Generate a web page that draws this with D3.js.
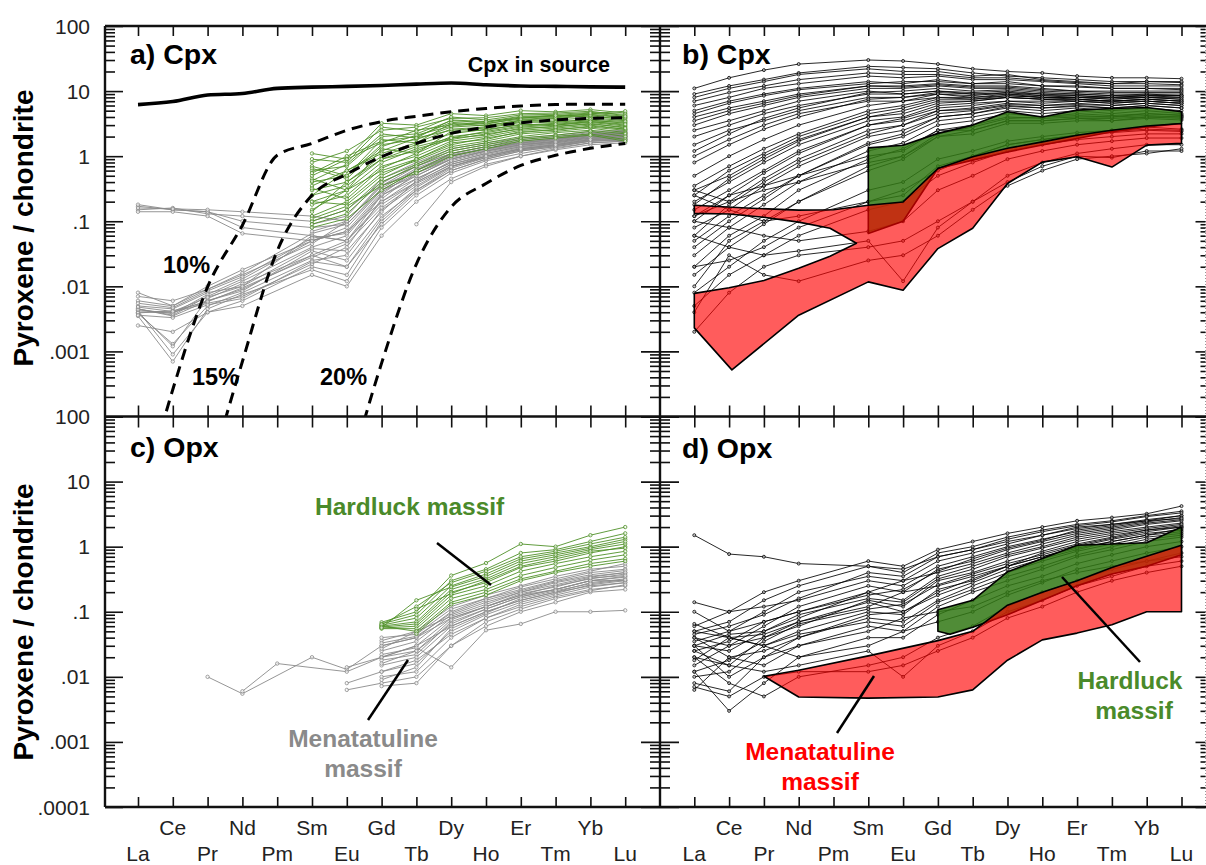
<!DOCTYPE html>
<html><head><meta charset="utf-8">
<script src="https://cdn.jsdelivr.net/npm/d3@7"></script>
<style>
body{margin:0;background:#fff;}
svg{display:block;font-family:"Liberation Sans",Arial,sans-serif;}
</style></head>
<body>
<svg id="c" width="1206" height="865"></svg>
<script>
// ---------------- DATA ----------------
const REE = ["La","Ce","Pr","Nd","Pm","Sm","Eu","Gd","Tb","Dy","Ho","Er","Tm","Yb","Lu"];
const yTickLabelsTop = ["100","10","1",".1",".01",".001"];
const yTickLabelsBottom = ["100","10","1",".1",".01",".001",".0001"];
const yDecades = [100,10,1,0.1,0.01,0.001,0.0001];

// a) Cpx in source (La..Lu)
const cpxSource = [6.2,6.9,8.7,9.2,11,11.5,11.8,12.2,12.8,13.3,12.5,12,11.8,11.6,11.5];
// melting model curves (La..Lu)
const melt10 = [0.000003,0.00026,0.0098,0.087,1.03,1.57,2.5,3.4,4.1,4.8,5.4,5.9,6.2,6.3,6.3];
const melt15 = [null,0.0000001,0.00001,0.0007,0.035,0.25,0.53,0.98,1.57,2.24,2.8,3.25,3.6,3.8,3.9];
const melt20 = [null,null,null,null,null,0.0000001,0.00001,0.00066,0.022,0.166,0.38,0.72,1.03,1.32,1.57];

// a) green (Hardluck) clinopyroxene, Sm..Lu
const cpxGreenA = [
 [1.1,0.9,3.2,3.0,4.5,4.2,5.0,4.8,5.2,4.6],
 [0.8,1.2,2.5,2.8,3.8,3.9,4.5,4.6,4.9,4.2],
 [0.6,0.7,2.0,2.2,3.5,3.3,4.0,4.1,4.4,4.0],
 [0.5,0.9,1.6,2.5,3.0,3.4,3.8,4.3,4.0,3.8],
 [0.4,0.5,1.5,1.8,2.8,3.0,3.5,3.6,3.9,3.5],
 [0.35,0.6,1.2,1.9,2.5,2.7,3.3,3.4,3.6,3.2],
 [0.3,0.4,1.0,1.5,2.2,2.6,3.0,3.2,3.5,3.3],
 [0.25,0.35,0.9,1.2,2.0,2.3,2.8,3.0,3.3,2.9],
 [0.2,0.3,0.8,1.3,1.8,2.2,2.6,2.9,3.1,2.8],
 [0.18,0.25,0.7,1.0,1.7,2.0,2.5,2.7,3.0,2.6],
 [0.15,0.3,0.6,0.9,1.5,1.9,2.3,2.6,2.8,2.5],
 [0.12,0.2,0.55,0.85,1.4,1.7,2.2,2.4,2.7,2.3],
 [0.1,0.15,0.45,0.75,1.3,1.6,2.0,2.3,2.5,2.2],
 [0.09,0.13,0.4,0.7,1.2,1.5,1.9,2.1,2.4,2.0],
 [0.08,0.11,0.3,0.6,1.1,1.4,1.8,2.0,2.2,1.8],
 [0.45,0.3,1.3,1.1,2.4,2.5,3.1,3.0,3.4,3.0],
 [0.7,0.5,1.8,1.6,3.2,2.9,3.6,3.8,4.2,3.6],
 [0.25,0.6,1.1,1.6,2.6,2.8,3.4,3.3,3.7,3.4],
 [0.9,0.8,2.8,2.4,4.0,3.6,4.3,4.4,4.7,4.4],
 [0.2,0.18,0.5,0.9,1.6,1.8,2.4,2.5,2.9,2.6],
 [0.14,0.4,0.9,1.4,1.9,2.1,2.7,2.8,3.2,2.7],
 [0.55,1.0,1.7,2.0,3.3,3.1,3.9,4.0,4.5,4.9],
 [0.32,0.22,0.65,1.1,1.9,2.4,2.9,3.1,3.4,3.1],
 [0.65,0.45,1.4,2.1,2.9,3.2,3.7,3.9,4.3,3.9],
 [0.11,0.17,0.35,0.55,1.0,1.3,1.7,1.9,2.1,1.7],
 [0.42,0.75,2.2,1.9,3.6,3.4,4.1,4.2,4.6,4.1]
];
// a) grey (Menatatuline) clinopyroxene, La..Lu
const cpxGreyA = [
 [0.17,0.15,0.14,0.1,null,0.08,0.09,0.3,0.5,0.9,1.2,1.5,1.7,2.0,2.1],
 [0.15,0.16,0.13,0.12,null,0.1,0.15,0.4,0.7,1.1,1.4,1.7,1.9,2.2,2.3],
 [0.18,0.15,0.14,0.08,null,0.06,0.05,0.25,0.45,0.8,1.1,1.4,1.6,1.9,2.0],
 [0.14,0.14,0.12,0.065,null,0.05,0.07,0.2,0.4,0.75,1.0,1.3,1.5,1.8,1.9],
 [0.16,0.155,0.15,0.14,null,0.12,0.1,0.35,0.6,1.0,1.3,1.6,1.8,2.1,2.2],
 [0.004,0.004,0.006,0.009,null,0.03,0.05,0.2,0.45,0.8,1.1,1.4,1.6,1.9,2.0],
 [0.0045,0.0036,0.007,0.012,null,0.04,0.06,0.25,0.5,0.9,1.2,1.5,1.7,2.0,2.1],
 [0.0038,0.0013,0.005,0.008,null,0.025,0.03,0.15,0.35,0.7,1.0,1.3,1.5,1.8,1.9],
 [0.008,0.005,0.01,0.018,null,0.05,0.08,0.3,0.6,1.0,1.3,1.6,1.8,2.1,2.3],
 [0.0042,0.0009,0.004,0.006,null,0.02,0.015,0.1,0.3,0.6,0.9,1.2,1.4,1.7,1.8],
 [0.0035,0.0007,0.0045,0.0075,null,0.018,0.012,0.08,0.25,0.55,0.85,1.1,1.35,1.6,1.7],
 [0.0025,0.002,0.004,0.005,null,0.015,0.01,0.06,0.2,0.45,0.75,1.0,1.25,1.5,1.6],
 [0.005,0.0045,0.008,0.01,null,0.06,0.05,0.18,0.4,0.75,1.05,1.35,1.55,1.85,1.95],
 [0.006,0.005,0.009,0.015,null,0.045,0.1,0.35,0.7,1.1,1.4,1.7,1.9,2.2,2.4],
 [0.0045,0.0035,0.006,0.0085,null,0.035,0.025,0.12,0.3,0.65,0.95,1.25,1.45,1.75,1.85],
 [0.0042,0.004,0.0055,0.007,null,0.022,0.04,0.22,0.55,0.95,1.25,1.55,1.75,2.05,2.15],
 [0.004,0.0012,0.0065,0.011,null,0.03,0.02,0.09,0.28,0.6,0.9,1.2,1.4,1.7,1.75],
 [0.0044,0.0038,0.0075,0.013,null,0.05,0.07,0.28,0.55,0.9,1.2,1.5,1.65,1.95,2.05],
 [0.0039,0.0042,0.0058,0.0095,null,0.028,0.045,0.16,0.38,0.7,0.95,1.25,1.45,1.7,1.8],
 [0.007,0.006,0.009,0.016,null,0.065,0.09,0.32,0.65,1.05,1.3,1.6,1.85,2.1,2.2],
 [null,null,null,null,null,null,null,null,0.09,0.4,0.7,1.0,1.3,1.6,1.7],
 [null,null,null,null,null,0.09,0.12,0.45,0.8,1.3,1.6,1.9,2.1,2.4,2.5],
 [null,null,null,null,null,0.07,0.1,0.38,0.75,1.2,1.5,1.8,2.0,2.3,2.4],
 [0.0048,0.0041,0.0068,0.01,null,0.038,0.035,0.14,0.42,0.85,1.15,1.45,1.65,1.95,2.05],
 [0.0036,0.0033,0.0052,0.0065,null,0.024,0.02,0.11,0.33,0.68,1.0,1.3,1.5,1.8,1.9],
 [0.0055,0.0047,0.0085,0.014,null,0.055,0.065,0.26,0.62,1.02,1.32,1.62,1.82,2.12,2.25]
];

// b) Cpx samples, La..Lu
const cpxB = [
 [11,16,21,26,null,30,29,26,22,20,19,17,16,16,15.5],
 [9,12,15,19,null,24,23,22,19,17,16,15,14,14,13.5],
 [8,11,14,18,null,22,20,20,17,18,15,14,13,14,14],
 [7,9.5,12,15,null,19,18,18,16,16,14.5,13.5,13,13,12.5],
 [6,8,11,13,null,17,16,17,15,15,14,13,12,12,12],
 [5,7,9,11,null,14,13,15,13,14,12,12,11,11,11],
 [4.5,6.5,8.5,10.5,null,13,14,14,13,13,12,11.5,11,11,10.5],
 [4,5.5,7,9,null,12,12,13,12,12,11,10,10,10,10],
 [3.5,5,6.5,8.5,null,12,11.5,12.5,11.5,11.5,10.5,10,9.5,9.5,9.5],
 [3,4.5,6,8,null,11,11,12,11,11,10,9.5,9,9,9],
 [2.5,3.5,5,7,null,10,9,10,9.5,10,9,9,8.5,8.5,8.5],
 [2,3,4.5,6,null,9,9,10,9,9,8.5,8,8,8,7.5],
 [1.5,2.5,3.5,5,null,8,8,9,8,8.5,8,7.5,7,7.5,7],
 [1.2,2.2,3.8,5.5,null,9.5,10,11,10,10.5,9.5,9,8.5,9,8.5],
 [1,1.8,3,4.5,null,7,7,8,7.5,8,7.5,7,7,7,6.5],
 [0.8,1.5,2.6,4,null,7.5,8,9.5,9,9.5,9,8.5,8,8.5,8],
 [0.5,1,1.8,3,null,6,7,9,8.5,9.5,8.5,8.5,8,8.5,8.5],
 [0.35,0.7,1.3,2.2,null,5,6,8,8,9,8,8,7.5,8,8],
 [0.3,0.5,1,1.8,null,4,5,7,7,8,7.5,7.5,7,7.5,7],
 [0.25,0.6,1.1,2,null,4.5,5.5,7.5,7.5,8.5,8,8,7.5,8,7.5],
 [0.2,0.4,0.8,1.5,null,3.5,4,6,6.5,7,7,7,6.5,7,6.5],
 [0.18,0.45,0.9,1.7,null,4,4.5,6.5,7,8,7.5,7.5,7,7.5,7],
 [0.15,0.3,0.6,1.2,null,3,3.5,5,5.5,6.5,6,6.5,6,6.5,6],
 [0.12,0.2,0.45,0.9,null,2.5,3,4.5,5,6,5.5,6,5.5,6,5.5],
 [0.1,0.25,0.55,1.1,null,3,3.8,5.5,6,7,6.5,7,6.5,7,6.5],
 [0.08,0.15,0.35,0.7,null,2,2.5,4,4.5,5.5,5,5.5,5,5.5,5],
 [0.06,0.18,0.4,0.8,null,2.2,3,5,5.2,6.2,6,6.2,6,6.5,6],
 [0.05,0.12,0.25,0.5,null,1.5,2,3.5,4,5,4.5,5,4.5,5,4.5],
 [0.04,0.1,0.22,0.5,null,1.6,2.2,4,4.5,5.8,5.5,5.8,5.5,6,5.5],
 [0.03,0.08,0.18,0.4,null,1.2,1.6,3,3.5,4.5,4,4.5,4.2,4.5,4.2],
 [0.02,0.06,0.12,0.3,null,0.9,1.3,2.5,3,4,3.8,4,4,4.2,4],
 [0.01,0.05,0.1,0.2,null,0.7,1,2,2.5,3.5,3.5,3.8,3.8,4,3.8],
 [0.015,0.04,0.09,0.2,null,0.6,0.9,2,2.2,3.2,3.2,3.5,3.5,3.8,3.6],
 [0.3,0.2,0.3,0.4,null,0.8,1,2.2,2.8,3.8,4,4.2,4,4.5,4.3],
 [0.008,0.02,0.05,0.1,null,0.3,0.4,0.9,1.2,1.7,2,2.3,2.5,2.8,2.6],
 [0.02,0.025,0.04,0.08,null,0.2,0.25,0.7,1,1.5,1.8,2.1,2.3,2.5,2.4],
 [0.005,0.015,0.03,0.06,null,0.15,0.2,0.5,0.8,1.2,1.5,1.8,2,2.2,2.2],
 [0.1,0.08,0.06,0.05,null,0.07,0.1,0.3,0.5,0.9,1.2,1.5,1.7,1.9,1.9],
 [0.06,0.04,0.03,0.035,null,0.05,0.012,0.08,0.2,0.5,0.8,1.1,1.3,1.5,1.5],
 [0.002,0.008,0.02,0.03,null,0.04,0.05,0.1,0.2,0.4,0.7,1.0,0.95,1.2,1.2],
 [0.004,0.03,0.015,0.012,null,0.025,0.03,0.06,0.15,0.35,0.6,0.9,1.0,1.1,1.3],
 [0.12,0.25,0.35,0.5,null,1,1.2,2.5,2.5,3.5,3.5,3.8,3.5,4,4],
 [0.25,0.15,0.1,0.12,null,0.2,0.3,0.6,1,1.5,1.8,2.1,2.4,2.6,2.5]
];
// b) field outlines: [element index, value]
const redFieldB = [[0,0.176],[1.5,0.16],[3,0.148],[4,0.15],[5,0.176],[6,0.198],[7,0.646],[8,0.98],[9,1.32],[10,1.66],[11,2.1],[12,2.5],[13,2.9],[14,3.18],[14,1.57],[13,1.48],[12,0.68],[11,0.98],[10,0.81],[9,0.38],[8,0.078],[7,0.038],[6,0.0087],[5,0.0117],[3,0.0036],[1.08,0.00052],[0,0.0023],[0,0.0078],[1,0.0095],[2,0.0123],[3,0.019],[3.9,0.029],[4.66,0.046],[3.9,0.078],[3,0.097],[2,0.115],[1,0.129],[0,0.132]];
const greenFieldB = [[5,1.34],[6,1.47],[7,2.24],[8,3.0],[9,4.8],[10,4.0],[11,5.1],[12,5.4],[13,5.6],[14,4.8],[14,3.18],[13,2.8],[12,2.37],[11,1.87],[10,1.48],[9,1.16],[8,0.87],[7,0.645],[6,0.1],[5,0.065]];

// c) Opx, La..Lu
const opxGreyC = [
 [null,null,0.01,0.0055,null,0.02,0.013,0.03,0.04,0.08,0.12,0.18,0.22,0.3,0.3],
 [null,null,null,0.006,0.016,null,0.012,0.02,0.03,0.06,0.1,0.15,0.2,0.25,0.28],
 [null,null,null,null,null,null,0.008,0.012,0.018,0.045,0.08,0.12,0.17,0.22,0.25],
 [null,null,null,null,null,null,0.0063,0.008,0.01,0.03,0.06,0.1,0.14,0.2,0.22],
 [null,null,null,null,null,null,null,0.036,0.05,0.12,0.18,0.25,0.35,0.45,0.5],
 [null,null,null,null,null,null,null,0.03,0.04,0.1,0.16,0.22,0.3,0.4,0.45],
 [null,null,null,null,null,null,null,0.025,0.035,0.09,0.14,0.2,0.28,0.35,0.4],
 [null,null,null,null,null,null,null,0.02,0.03,0.08,0.12,0.18,0.25,0.32,0.38],
 [null,null,null,null,null,null,null,0.018,0.022,0.07,0.11,0.17,0.22,0.3,0.35],
 [null,null,null,null,null,null,null,0.015,0.02,0.06,0.1,0.15,0.2,0.28,0.32],
 [null,null,null,null,null,null,null,0.012,0.016,0.05,0.09,0.14,0.19,0.26,0.3],
 [null,null,null,null,null,null,null,0.01,0.012,0.04,0.08,0.13,0.18,0.24,0.28],
 [null,null,null,null,null,null,null,0.0072,0.008,0.03,0.07,0.11,0.16,0.21,0.26],
 [null,null,null,null,null,null,null,0.04,0.045,0.11,0.16,0.24,0.32,0.42,0.55],
 [null,null,null,null,null,null,null,0.022,0.028,0.014,0.052,0.065,0.1,0.1,0.105],
 [null,null,null,null,null,null,0.014,0.02,0.025,0.065,0.11,0.17,0.22,0.3,0.34],
 [null,null,null,null,null,null,null,0.033,0.042,0.095,0.15,0.21,0.29,0.37,0.43],
 [null,null,null,null,null,null,null,0.027,0.05,0.085,0.13,0.2,0.26,0.34,0.4],
 [null,null,null,null,null,null,null,0.016,0.025,0.075,0.12,0.19,0.24,0.33,0.36],
 [null,null,null,null,null,null,null,0.009,0.014,0.055,0.095,0.16,0.21,0.27,0.31]
];
const opxGreenC = [
 [null,null,null,null,null,null,null,0.069,0.1,0.36,0.56,1.1,1.0,1.5,2.0],
 [null,null,null,null,null,null,null,0.065,0.09,0.3,0.45,0.8,0.9,1.2,1.6],
 [null,null,null,null,null,null,null,0.062,0.08,0.25,0.38,0.65,0.8,1.0,1.3],
 [null,null,null,null,null,null,null,0.06,0.07,0.22,0.32,0.55,0.7,0.9,1.1],
 [null,null,null,null,null,null,null,0.058,0.065,0.2,0.28,0.48,0.6,0.8,1.0],
 [null,null,null,null,null,null,null,0.056,0.06,0.18,0.25,0.42,0.55,0.7,0.85],
 [null,null,null,null,null,null,null,0.055,0.055,0.16,0.22,0.36,0.48,0.62,0.75],
 [null,null,null,null,null,null,null,0.06,0.05,0.14,0.2,0.32,0.42,0.55,0.65],
 [null,null,null,null,null,null,null,null,0.046,0.13,0.18,0.3,0.4,0.5,0.6],
 [null,null,null,null,null,null,null,0.064,0.12,0.28,0.42,0.7,0.85,1.1,1.4],
 [null,null,null,null,null,null,null,0.057,0.15,0.24,0.35,0.6,0.75,0.95,1.2],
 [null,null,null,null,null,null,null,null,0.11,0.19,0.3,0.5,0.65,0.85,0.95]
];

// d) Opx samples, La..Lu
const opxD = [
 [1.5,0.77,0.7,0.55,null,0.5,0.45,0.7,0.9,1.2,1.5,2.0,2.2,2.5,3.0],
 [0.14,0.1,0.2,0.3,null,0.6,0.5,0.9,1.2,1.6,2.0,2.5,2.8,3.2,4.2],
 [0.05,0.07,0.15,0.25,null,0.5,0.4,0.8,1.0,1.4,1.8,2.2,2.5,3.0,3.5],
 [0.035,0.05,0.1,0.2,null,0.35,0.3,0.6,0.8,1.1,1.5,1.9,2.2,2.6,3.0],
 [0.04,0.03,0.06,0.12,null,0.25,0.2,0.45,0.6,0.9,1.2,1.6,1.9,2.3,2.6],
 [0.03,0.025,0.05,0.08,null,0.2,0.15,0.35,0.5,0.75,1.0,1.4,1.7,2.0,2.3],
 [0.02,0.015,0.04,0.06,null,0.15,0.12,0.3,0.4,0.6,0.85,1.2,1.5,1.8,2.0],
 [0.01,0.012,0.03,0.05,null,0.1,0.09,0.22,0.3,0.5,0.7,1.0,1.3,1.6,1.8],
 [0.0063,0.02,0.025,0.04,null,0.08,0.07,0.15,0.25,0.4,0.6,0.85,1.1,1.4,1.6],
 [0.03,0.01,0.02,0.03,null,0.06,0.05,0.12,0.2,0.3,0.45,0.7,0.9,1.2,1.4],
 [0.05,0.04,0.03,0.02,null,0.04,0.04,0.09,0.15,0.25,0.35,0.55,0.75,1.0,1.2],
 [0.012,0.003,0.008,0.02,null,0.03,0.05,0.07,0.1,0.18,0.28,0.45,0.6,0.8,1.0],
 [0.02,0.008,0.005,0.01,null,0.015,0.02,0.04,0.06,0.12,0.2,0.3,0.45,0.6,0.8],
 [0.007,0.005,0.01,0.012,null,0.012,0.015,0.025,0.04,0.08,0.12,0.2,0.3,0.4,0.5],
 [0.025,0.015,0.012,0.015,null,0.025,0.01,0.03,0.05,0.1,0.15,0.25,0.35,0.5,0.6],
 [0.1,0.05,0.07,0.1,null,0.2,0.3,0.4,0.55,0.8,1.1,1.5,1.8,2.2,2.5],
 [0.06,0.1,0.12,0.15,null,0.3,0.25,0.5,0.7,1.0,1.3,1.7,2.0,2.4,2.8],
 [0.04,0.02,0.015,0.03,null,0.05,0.08,0.1,0.12,0.2,0.3,0.4,0.5,0.6,0.7],
 [0.015,0.03,0.04,0.07,null,0.12,0.2,0.25,0.35,0.5,0.8,1.1,1.4,1.8,2.1],
 [0.008,0.006,0.02,0.04,null,0.09,0.1,0.18,0.28,0.45,0.65,0.9,1.2,1.5,1.9],
 [0.045,0.06,0.09,0.16,null,0.4,0.35,0.7,0.9,1.3,1.7,2.1,2.4,2.9,3.3],
 [0.025,0.035,0.07,0.1,null,0.18,0.22,0.42,0.65,0.95,1.25,1.8,2.1,2.5,2.7],
 [0.018,0.04,0.03,0.045,null,0.07,0.06,0.14,0.22,0.35,0.5,0.75,1.0,1.3,1.5],
 [0.03,0.045,0.05,0.09,null,0.16,0.14,0.32,0.45,0.7,0.95,1.3,1.6,1.9,2.2],
 [0.012,0.018,0.035,0.065,null,0.11,0.13,0.26,0.38,0.55,0.75,1.05,1.35,1.7,2.0],
 [0.065,0.04,0.045,0.07,null,0.14,0.1,0.2,0.32,0.5,0.7,0.95,1.2,1.5,1.7]
];
const redFieldD = [[2,0.0102],[3,0.0126],[5,0.021],[7,0.036],[8,0.05],[9,0.126],[10,0.2],[11,0.3],[12,0.48],[13,0.71],[14,1.05],[14,0.1],[13,0.1],[12,0.063],[11,0.047],[10,0.037],[9,0.018],[8,0.0063],[7,0.0049],[5,0.0047],[3,0.0049]];
const greenFieldD = [[7,0.107],[8,0.15],[9,0.41],[10,0.66],[11,1.05],[12,1.1],[13,1.15],[14,2.0],[14,0.75],[13,0.5],[12,0.38],[11,0.25],[10,0.15],[9,0.09],[8,0.058],[7.35,0.045],[7,0.05]];

// ---------------- DRAWING ----------------
const svg = d3.select("#c");
const FONT = "'Liberation Sans', Arial, sans-serif";
const colGrey = "#8a8a8a", colGreen = "#4f9128", colBlack = "#000";

const xLeft = d3.scaleLinear().domain([0,14]).range([138,625.2]);
const xRight = d3.scaleLinear().domain([0,14]).range([694.3,1181.5]);
const yTop = d3.scaleLog().domain([1e-4,100]).range([416.5,26]);
const yBot = d3.scaleLog().domain([1e-4,100]).range([807,416.5]);

const panels = {
  a:{x:xLeft,y:yTop,x0:105,x1:660,y0:26,y1:416.5},
  b:{x:xRight,y:yTop,x0:660,x1:1206,y0:26,y1:416.5},
  c:{x:xLeft,y:yBot,x0:105,x1:660,y0:416.5,y1:807},
  d:{x:xRight,y:yBot,x0:660,x1:1206,y0:416.5,y1:807}
};
const defs = svg.append("defs");
Object.entries(panels).forEach(([k,p])=>{
  defs.append("clipPath").attr("id","clip"+k).append("rect")
    .attr("x",p.x0).attr("y",p.y0).attr("width",p.x1-p.x0).attr("height",p.y1-p.y0);
  p.g = svg.append("g").attr("clip-path",`url(#clip${k})`);
});

function pts(row, offset=0){
  return row.map((v,i)=>[i+offset,v]).filter(d=>d[1]!=null);
}
function drawSeries(p, rows, color, offset=0, width=0.9, r=1.7, mfill="#fff"){
  const line = d3.line().x(d=>p.x(d[0])).y(d=>p.y(d[1]));
  const g = p.g.append("g");
  rows.forEach(row=>{
    const ps = pts(row,offset);
    g.append("path").attr("d",line(ps)).attr("fill","none")
      .attr("stroke",color).attr("stroke-width",width);
    g.selectAll(null).data(ps).enter().append("circle")
      .attr("cx",d=>p.x(d[0])).attr("cy",d=>p.y(d[1])).attr("r",r)
      .attr("fill",mfill).attr("fill-opacity",0.6).attr("stroke",color).attr("stroke-width",0.8);
  });
}
function drawField(p, poly, fill, op){
  const line = d3.line().x(d=>p.x(d[0])).y(d=>p.y(d[1]));
  p.g.append("path").attr("d",line(poly)+"Z").attr("fill",fill).attr("fill-opacity",op)
    .attr("stroke","#000").attr("stroke-width",1.6).attr("stroke-linejoin","round");
}

// ---- panel a
const pa = panels.a;
drawSeries(pa, cpxGreyA, colGrey);
drawSeries(pa, cpxGreenA, colGreen, 5);
{
  const line = d3.line().x(d=>pa.x(d[0])).y(d=>pa.y(d[1])).curve(d3.curveMonotoneX);
  [melt10,melt15,melt20].forEach(m=>{
    pa.g.append("path").attr("d",line(pts(m))).attr("fill","none").attr("stroke","#000")
      .attr("stroke-width",3).attr("stroke-dasharray","11,7");
  });
  pa.g.append("path").attr("d",line(pts(cpxSource))).attr("fill","none")
    .attr("stroke","#000").attr("stroke-width",3.6);
}
// ---- panel b
const pb = panels.b;
drawSeries(pb, cpxB, colBlack, 0, 0.85, 1.5, "#ccc");
drawField(pb, greenFieldB, "#317814", 0.85);
drawField(pb, redFieldB, "#ff0000", 0.64);
// ---- panel c
const pc = panels.c;
drawSeries(pc, opxGreyC, colGrey);
drawSeries(pc, opxGreenC, colGreen);
// ---- panel d
const pd = panels.d;
drawSeries(pd, opxD, colBlack, 0, 0.85, 1.5, "#ccc");
drawField(pd, greenFieldD, "#317814", 0.85);
drawField(pd, redFieldD, "#ff0000", 0.64);

// ---------------- AXES ----------------
const axG = svg.append("g").attr("stroke","#111");
const minorVals = [];
for(let e=-4;e<2;e++) for(let m=2;m<=9;m++) minorVals.push(m*Math.pow(10,e));

function yAxisTicks(yS, xPos, side){
  const maj = d3.axisRight(yS).tickValues(yDecades).tickFormat("").tickSizeOuter(0);
  const mino = d3.axisRight(yS).tickValues(minorVals).tickFormat("").tickSizeOuter(0);
  if(side==="in"){ maj.tickSize(18); mino.tickSize(10); }
  const g1 = svg.append("g").attr("transform",`translate(${xPos},0)`).call(maj);
  const g2 = svg.append("g").attr("transform",`translate(${xPos},0)`).call(mino);
  [g1,g2].forEach(g=>{g.select(".domain").remove(); g.selectAll("line").attr("stroke","#111").attr("stroke-width",1.6);});
  if(side==="both"){
    g1.selectAll("line").attr("x1",-19).attr("x2",19);
    g2.selectAll("line").attr("x1",-10).attr("x2",10);
  }
  if(side==="leftin"){
    g1.selectAll("line").attr("x1",-10).attr("x2",0);
    g2.selectAll("line").attr("x1",-5).attr("x2",0);
  }
}
yAxisTicks(yTop,105,"in"); yAxisTicks(yBot,105,"in");
yAxisTicks(yTop,660,"both"); yAxisTicks(yBot,660,"both");
yAxisTicks(yTop,1205.5,"leftin"); yAxisTicks(yBot,1205.5,"leftin");

function xAxisTicks(xS, yPos, mode){
  const ax = d3.axisBottom(xS).tickValues(d3.range(15)).tickFormat("").tickSizeOuter(0).tickSize(10);
  const g = svg.append("g").attr("transform",`translate(0,${yPos})`).call(ax);
  g.select(".domain").remove();
  g.selectAll("line").attr("stroke","#111").attr("stroke-width",1.6);
  if(mode==="up") g.selectAll("line").attr("y1",-10).attr("y2",0);
  if(mode==="both") g.selectAll("line").attr("y1",-11).attr("y2",11);
  return g;
}
[xLeft,xRight].forEach(xs=>{ xAxisTicks(xs,26,"down"); xAxisTicks(xs,416.5,"both"); xAxisTicks(xs,807,"up"); });

// frame lines
axG.append("line").attr("x1",105).attr("x2",105).attr("y1",26).attr("y2",807).attr("stroke-width",2.4);
axG.append("line").attr("x1",660).attr("x2",660).attr("y1",26).attr("y2",807).attr("stroke-width",2.4);
axG.append("line").attr("x1",1205.5).attr("x2",1205.5).attr("y1",26).attr("y2",807).attr("stroke-width",1).attr("stroke","#999").attr("stroke-dasharray","1,2");
[26,416.5,807].forEach(yv=>axG.append("line").attr("x1",105).attr("x2",1206).attr("y1",yv).attr("y2",yv).attr("stroke-width",2.4));

// tick labels
const lab = svg.append("g").attr("font-family",FONT).attr("font-size",21).attr("fill","#222");
yTickLabelsTop.forEach((t,i)=>lab.append("text").attr("x",90).attr("y",yTop(yDecades[i])+7.5).attr("text-anchor","end").text(t));
yTickLabelsBottom.forEach((t,i)=>{ lab.append("text").attr("x",90).attr("y",yBot(yDecades[i])+7.5).attr("text-anchor","end").text(t);});
[xLeft,xRight].forEach(xs=>{
  REE.forEach((e,i)=>{
    lab.append("text").attr("x",xs(i)).attr("y", i%2===1 ? 835 : 861).attr("text-anchor","middle").text(e);
  });
});

// axis titles
const tt = svg.append("g").attr("font-family",FONT).attr("font-weight","bold").attr("fill","#000");
[228,622].forEach(cy=>{
  tt.append("text").attr("transform",`translate(33,${cy}) rotate(-90)`).attr("text-anchor","middle")
    .attr("font-size",28).text("Pyroxene / chondrite");
});
// panel titles
[["a) Cpx",130,64],["b) Cpx",682,64],["c) Opx",130,457],["d) Opx",682,458]].forEach(([t,x,y])=>{
  tt.append("text").attr("x",x).attr("y",y).attr("font-size",28.5).text(t);
});
tt.append("text").attr("x",610).attr("y",72).attr("text-anchor","end").attr("font-size",21.5).text("Cpx in source");
[["10%",163,273],["15%",192,385],["20%",320,385]].forEach(([t,x,y])=>{
  tt.append("text").attr("x",x).attr("y",y).attr("font-size",23.5).text(t);
});
// annotations
tt.append("text").attr("x",315).attr("y",515).attr("font-size",24.5).attr("fill","#4a8a2a").text("Hardluck massif");
tt.append("text").attr("x",363).attr("y",747).attr("font-size",24.5).attr("fill","#8a8a8a").attr("text-anchor","middle").text("Menatatuline");
tt.append("text").attr("x",363).attr("y",777).attr("font-size",24.5).attr("fill","#8a8a8a").attr("text-anchor","middle").text("massif");
tt.append("text").attr("x",820).attr("y",760).attr("font-size",24.5).attr("fill","#ff0000").attr("text-anchor","middle").text("Menatatuline");
tt.append("text").attr("x",820).attr("y",790).attr("font-size",24.5).attr("fill","#ff0000").attr("text-anchor","middle").text("massif");
tt.append("text").attr("x",1130).attr("y",689).attr("font-size",24.5).attr("fill","#4a8a2a").attr("text-anchor","middle").text("Hardluck");
tt.append("text").attr("x",1134).attr("y",719).attr("font-size",24.5).attr("fill","#4a8a2a").attr("text-anchor","middle").text("massif");
// leader lines
const leaders = [[437,543,491,585],[368,720,408,660],[837,733,874,676],[1140,662,1062,577]];
leaders.forEach(([a,b,c,d])=>svg.append("line").attr("x1",a).attr("y1",b).attr("x2",c).attr("y2",d).attr("stroke","#000").attr("stroke-width",2.5));
</script>
</body></html>
